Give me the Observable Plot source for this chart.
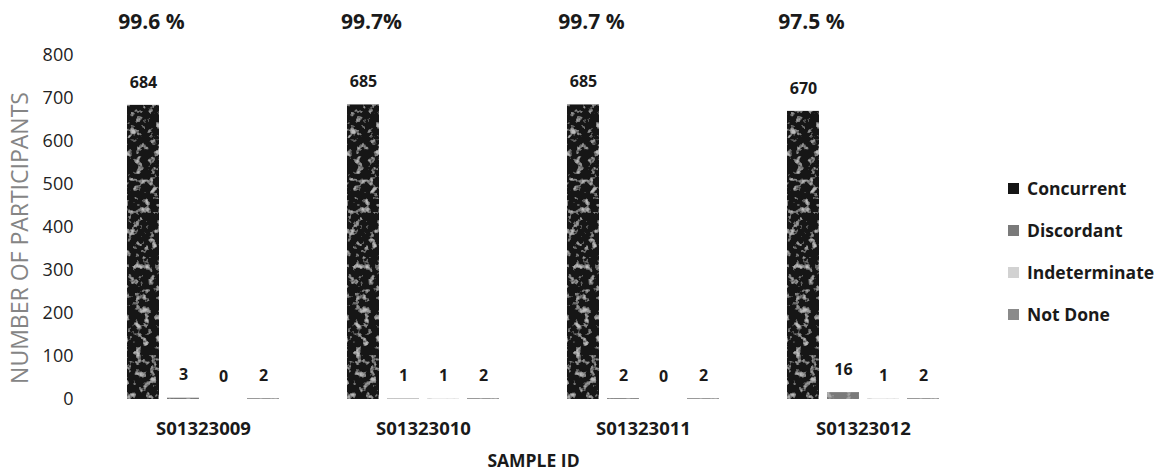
<!DOCTYPE html>
<html>
<head>
<meta charset="utf-8">
<script src="https://cdn.jsdelivr.net/npm/d3@7"></script>
<script src="https://cdn.jsdelivr.net/npm/@observablehq/plot@0.6"></script>
<style>
  html, body { margin: 0; padding: 0; background: #fff; }
  #wrap { position: relative; width: 1169px; height: 474px; font-family: "Open Sans", sans-serif; }
  #legend { position: absolute; left: 1008px; top: 167px; }
  .sw { display: flex; align-items: center; height: 42px; font-weight: 700; font-size: 17.5px; color: #1a1a1a; }
  .sq { width: 11px; height: 11px; margin-right: 8px; }
</style>
</head>
<body>
<div id="wrap"><div id="chart"></div><div id="legend"></div></div>
<script>
const samples = ["S01323009", "S01323010", "S01323011", "S01323012"];
const categories = ["Concurrent", "Discordant", "Indeterminate", "Not Done"];
const concurrent = [684, 685, 685, 670];
const discordant = [3, 1, 2, 16];
const indeterminate = [0, 1, 0, 1];
const notDone = [2, 2, 2, 2];
const percentLabels = ["99.6 %", "99.7%", "99.7 %", "97.5 %"];
const yTicks = [0, 100, 200, 300, 400, 500, 600, 700, 800];
const colors = ["#151515", "#7a7a7a", "#d2d2d2", "#8a8a8a"];

const series = [concurrent, discordant, indeterminate, notDone];
const rows = [];
samples.forEach((s, i) => {
  categories.forEach((c, j) => rows.push({sample: s, category: c, value: series[j][i]}));
});
const pctRows = samples.map((s, i) => ({sample: s, category: categories[0], label: percentLabels[i]}));

const font = "Open Sans, sans-serif";
const plot = Plot.plot({
  width: 1169,
  height: 474,
  marginLeft: 93,
  marginRight: 196,
  marginTop: 55,
  marginBottom: 75,
  style: {fontFamily: font, background: "#fff", overflow: "visible"},
  fx: {domain: samples, padding: 0},
  x: {domain: categories, paddingInner: 0.2, paddingOuter: 0.85, axis: null},
  y: {domain: [0, 800]},
  color: {domain: categories, range: colors},
  marks: [
    Plot.axisY({ticks: yTicks, tickSize: 0, tickPadding: 20, fontSize: 18, color: "#222", label: null}),
    Plot.axisFx({anchor: "bottom", tickSize: 0, tickPadding: 22, fontSize: 18.5, fontWeight: 700, color: "#1a1a1a",
      label: "SAMPLE ID", labelAnchor: "center", labelArrow: "none", labelOffset: 67}),
    Plot.barY(rows, {fx: "sample", x: "category", y: "value", fill: "category"}),
    Plot.text(rows, {fx: "sample", x: "category", y: "value", text: d => String(d.value), dy: -23,
      fontSize: 16, fontWeight: 700, fill: "#1a1a1a"}),
    Plot.text(pctRows, {fx: "sample", x: "category", frameAnchor: "top", text: "label", dy: -41, dx: 8,
      fontSize: 21, fontWeight: 700, fill: "#1a1a1a"})
  ]
});

const svg = d3.select(plot);
svg.selectAll('g[aria-label="fx-axis label"]').attr("font-size", 17.5).attr("font-weight", 700).attr("fill", "#1a1a1a");

// Y-axis title (gray, rotated)
svg.append("text")
  .attr("transform", "translate(19,238) rotate(-90)")
  .attr("text-anchor", "middle")
  .attr("dominant-baseline", "central")
  .attr("font-size", 23)
  .attr("font-family", font)
  .attr("fill", "#858585")
  .text("NUMBER OF PARTICIPANTS");

// Mottled print texture on bars
const defs = svg.insert("defs", ":first-child");
const f = defs.append("filter").attr("id", "grain").attr("x", 0).attr("y", 0).attr("width", 1).attr("height", 1);
f.append("feTurbulence").attr("type", "fractalNoise").attr("baseFrequency", 0.14).attr("numOctaves", 3).attr("seed", 11).attr("result", "n");
f.append("feColorMatrix").attr("in", "n").attr("type", "matrix")
  .attr("values", "0 0 0 0 0.5  0 0 0 0 0.5  0 0 0 0 0.5  0 0 0 4.2 -2.3").attr("result", "w");
f.append("feComposite").attr("in", "w").attr("in2", "SourceGraphic").attr("operator", "in").attr("result", "wm");
const m = f.append("feMerge");
m.append("feMergeNode").attr("in", "SourceGraphic");
m.append("feMergeNode").attr("in", "wm");
svg.selectAll('g[aria-label="bar"] rect').attr("filter", "url(#grain)");

document.getElementById("chart").appendChild(plot);

const legend = d3.select("#legend");
categories.forEach((c, i) => {
  const row = legend.append("div").attr("class", "sw");
  row.append("div").attr("class", "sq").style("background", colors[i]);
  row.append("span").text(c);
});
</script>
</body>
</html>
